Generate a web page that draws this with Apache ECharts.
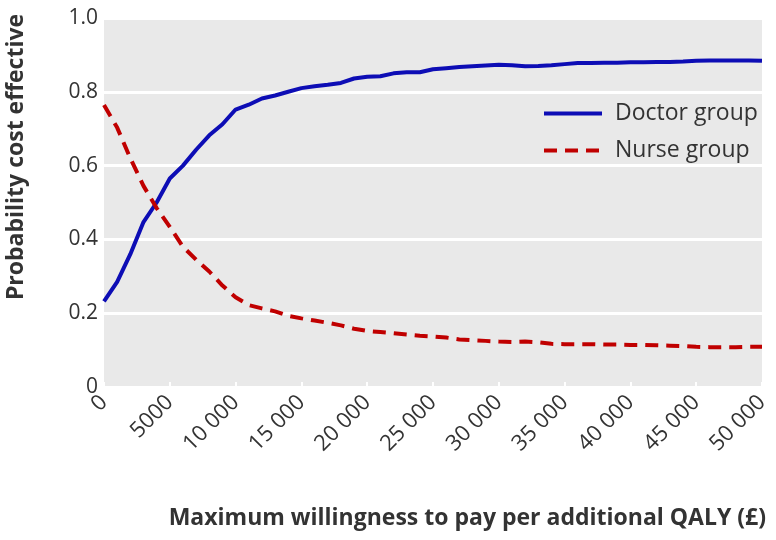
<!DOCTYPE html>
<html>
<head>
<meta charset="utf-8">
<script src="https://cdn.jsdelivr.net/npm/echarts@6/dist/echarts.min.js"></script>
<style>html,body{margin:0;padding:0;background:#fff}#c{width:776px;height:540px}</style>
</head>
<body>
<div id="c"></div>
<script>
const wtp = [0,1000,2000,3000,4000,5000,6000,7000,8000,9000,10000,11000,12000,13000,14000,15000,16000,17000,18000,19000,20000,21000,22000,23000,24000,25000,26000,27000,28000,29000,30000,31000,32000,33000,34000,35000,36000,37000,38000,39000,40000,41000,42000,43000,44000,45000,46000,47000,48000,49000,50000];
const doctor = [0.232,0.285,0.36,0.447,0.50,0.565,0.60,0.643,0.682,0.712,0.752,0.765,0.782,0.790,0.800,0.810,0.815,0.819,0.824,0.836,0.841,0.842,0.850,0.853,0.853,0.861,0.864,0.867,0.869,0.871,0.873,0.872,0.869,0.870,0.872,0.875,0.878,0.878,0.879,0.879,0.880,0.880,0.881,0.881,0.882,0.884,0.885,0.885,0.885,0.885,0.884];
const nurse = [0.764,0.703,0.62,0.545,0.485,0.434,0.38,0.345,0.313,0.275,0.243,0.222,0.213,0.205,0.193,0.186,0.180,0.174,0.167,0.158,0.152,0.149,0.146,0.142,0.139,0.137,0.134,0.129,0.127,0.125,0.123,0.122,0.123,0.121,0.117,0.116,0.116,0.116,0.115,0.115,0.114,0.114,0.113,0.112,0.111,0.109,0.108,0.108,0.108,0.109,0.109];
const seriesNames = ['Doctor group','Nurse group'];
const yTitle = 'Probability cost effective';
const xTitle = 'Maximum willingness to pay per additional QALY (£)';

const chart = echarts.init(document.getElementById('c'));
const FONT = 'Open Sans';
function fmtX(v){ if (v < 10000) return String(v); const s = String(v); return s.slice(0, s.length-3) + ' ' + s.slice(-3); }
chart.setOption({
  animation: false,
  textStyle: { fontFamily: FONT },
  grid: { left: 104, right: 14, top: 18, bottom: 153, show: true, backgroundColor: '#e9e9e9', borderWidth: 0 },
  legend: {
    orient: 'vertical', left: 537, top: 97, itemWidth: 58, itemHeight: 20, itemGap: 14,
    itemStyle: { opacity: 0 },
    lineStyle: { width: 4 },
    textStyle: { fontFamily: FONT, fontSize: 23, color: '#333', padding: [0, 0, 0, 8] },
    data: seriesNames
  },
  xAxis: {
    type: 'value', min: 0, max: 50000, interval: 5000,
    axisLine: { show: false },
    axisTick: { show: true, inside: true, length: 5, lineStyle: { color: '#fff', width: 2 } },
    splitLine: { show: false },
    axisLabel: { rotate: 45, margin: 12, fontSize: 22, color: '#333', fontFamily: FONT, formatter: fmtX }
  },
  yAxis: {
    type: 'value', min: 0, max: 1, interval: 0.2,
    axisLine: { show: false }, axisTick: { show: false },
    splitLine: { show: true, lineStyle: { color: '#fff', width: 3 } },
    axisLabel: { margin: 6, fontSize: 21, color: '#333', fontFamily: FONT, formatter: v => v === 0 ? '0' : v.toFixed(1) }
  },
  graphic: [
    { type: 'text', x: 16, y: 157, rotation: Math.PI/2,
      style: { text: yTitle, font: 'bold 23px "' + FONT + '"', fill: '#333', textAlign: 'center', textVerticalAlign: 'middle' } },
    { type: 'text', right: 10, top: 507,
      style: { text: xTitle, font: 'bold 23px "' + FONT + '"', fill: '#333' } }
  ],
  series: [
    { name: seriesNames[0], type: 'line', symbol: 'none', data: wtp.map((x,i)=>[x, doctor[i]]),
      lineStyle: { color: '#0d0db5', width: 4 }, itemStyle: { color: '#0d0db5' } },
    { name: seriesNames[1], type: 'line', symbol: 'none', data: wtp.map((x,i)=>[x, nurse[i]]),
      lineStyle: { color: '#c00000', width: 4, type: [13, 8] }, itemStyle: { color: '#c00000' } }
  ]
});
</script>
</body>
</html>
